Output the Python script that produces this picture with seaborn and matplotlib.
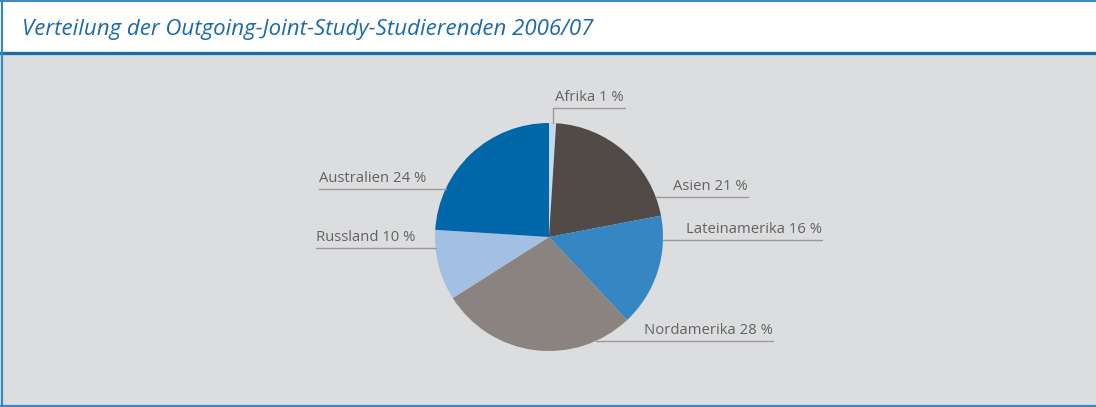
import numpy as np
import seaborn as sns
import matplotlib.pyplot as plt
from matplotlib.patches import Rectangle

# Data
regions = ["Afrika", "Asien", "Lateinamerika", "Nordamerika", "Russland", "Australien"]
shares = [1, 21, 16, 28, 10, 24]
colors = ["#c3d7ee", "#524a47", "#3487c3", "#8a837f", "#a3bfe1", "#0067a9"]

# label layout (pixel rows of the underline, text start / end x, side)
label_line_y = [108, 197, 240, 341, 248, 189]
label_x0 = [553, 672, 685, 645, 316, 319]
label_x1 = [625, 748, 822, 773, 414, 428]
label_side = ["top", "right", "right", "right", "left", "left"]

W, H = 1096, 407
sns.set_style("white")
plt.rcParams["font.family"] = ["Open Sans", "DejaVu Sans"]

fig = plt.figure(figsize=(W / 100, H / 100), dpi=100)
ax = fig.add_axes([0, 0, 1, 1])
ax.set_xlim(0, W)
ax.set_ylim(0, H)
ax.axis("off")

# backgrounds
ax.add_patch(Rectangle((0, 0), W, H - 54, color="#dcdddf", zorder=0))
ax.add_patch(Rectangle((0, H - 54), W, 54, color="white", zorder=0))
ax.plot([0, W], [H - 53, H - 53], color="#1b69a8", lw=2.4, zorder=1)
ax.plot([1.5, 1.5], [0, H], color="#3a87c3", lw=1.6, zorder=1)
ax.plot([0, W], [H - 1, H - 1], color="#3a87c3", lw=1.4, zorder=1)
ax.plot([0, W], [1, 1], color="#3a87c3", lw=1.6, zorder=1)

ax.text(22, H - 29, "Verteilung der Outgoing-Joint-Study-Studierenden 2006/07",
        fontsize=16, style="italic", color="#1b6aab", va="center", ha="left")

# pie
cx, cy, r = 549, H - 237, 114
ax.pie(shares, colors=colors, startangle=90, counterclock=False,
       center=(cx, cy), radius=r, frame=True,
       wedgeprops=dict(linewidth=0))
ax.set_xlim(0, W)
ax.set_ylim(0, H)
ax.set_aspect("equal")
ax.axis("off")

line_col = "#9a9a9a"
txt_col = "#626262"
fs = 10.7
for name, s, ly, x0, x1, side in zip(regions, shares, label_line_y, label_x0,
                                      label_x1, label_side):
    y = H - ly
    dy = y - cy
    if side == "top":
        ax.plot([x0, x0, x1], [cy + np.sqrt(r**2 - (x0 - cx)**2), y, y],
                color=line_col, lw=1)
        ax.text(x0 + 2, y + 3, f"{name} {s} %", fontsize=fs, color=txt_col,
                ha="left", va="bottom")
    elif side == "right":
        edge = cx + np.sqrt(max(r**2 - dy**2, 0))
        ax.plot([min(edge, x0), x1], [y, y], color=line_col, lw=1)
        ax.text(x1, y + 3, f"{name} {s} %", fontsize=fs, color=txt_col,
                ha="right", va="bottom")
    else:
        edge = cx - np.sqrt(max(r**2 - dy**2, 0))
        ax.plot([x0, max(edge, x1)], [y, y], color=line_col, lw=1)
        ax.text(x0, y + 3, f"{name} {s} %", fontsize=fs, color=txt_col,
                ha="left", va="bottom")

fig.savefig("out.png", dpi=100)
